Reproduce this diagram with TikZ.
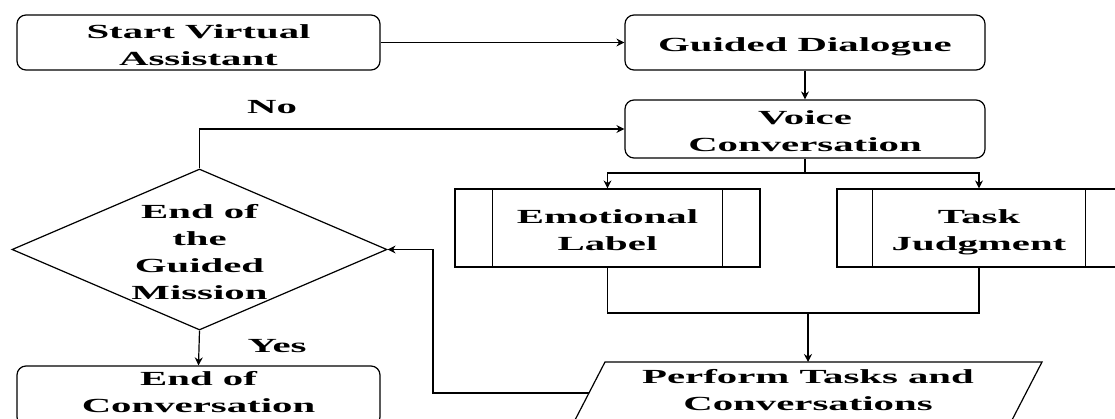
\documentclass[tikz,border=0pt]{standalone}
\usepackage{fontspec}
\setmainfont{Liberation Serif}
\usetikzlibrary{arrows.meta,shapes.geometric}
\newcommand\sx[1]{\scalebox{2.04}[1]{\begin{tabular}{@{}c@{}}#1\end{tabular}}}
\newcommand\bx[1]{\raisebox{-4pt}[\height][\depth]{\sx{#1}}}
\begin{document}
\begin{tikzpicture}[x=1pt,y=1pt,
  every node/.style={font=\fontsize{20}{27}\selectfont\bfseries, inner sep=0pt},
  rbox/.style={draw, rounded corners=9pt, line width=1.2pt},
  pbox/.style={draw, line width=1.2pt},
  conn/.style={line width=1.2pt},
  arr/.style={conn, -{Stealth[length=8pt,width=8pt]}}]
\useasboundingbox (0,0) rectangle (1115,-419);

% process boxes
\node[rbox, minimum width=363pt, minimum height=55pt] (start) at (198.5,-42.5) {\bx{Start Virtual\\Assistant}};
\node[rbox, minimum width=360pt, minimum height=55pt] (guided) at (805,-42.5) {\bx{Guided Dialogue}};
\node[rbox, minimum width=360pt, minimum height=58pt] (voice) at (805,-129) {\bx{Voice\\Conversation}};
\node[pbox, minimum width=305pt, minimum height=78pt] (emo) at (607.5,-228) {\bx{Emotional\\Label}};
\node[pbox, minimum width=284pt, minimum height=78pt] (task) at (979,-228) {\bx{Task\\Judgment}};
\draw[conn] ([xshift=38pt]emo.north west) -- ([xshift=38pt]emo.south west);
\draw[conn] ([xshift=-38pt]emo.north east) -- ([xshift=-38pt]emo.south east);
\draw[conn] ([xshift=36pt]task.north west) -- ([xshift=36pt]task.south west);
\draw[conn] ([xshift=-36pt]task.north east) -- ([xshift=-36pt]task.south east);

% decision
\node[diamond, draw, line width=1.2pt, minimum width=375pt, minimum height=161pt] (dec) at (199.5,-249.5) {};
\node (dect) at (199.5,-250) {\bx{End of\\the\\Guided\\Mission}};

% end
\node[rbox, minimum width=363pt, minimum height=60pt] (endc) at (198.5,-396) {};
\node (endt) at (198.5,-394) {\sx{End of\\Conversation}};

% input/output parallelogram
\coordinate (p1) at (605,-362);
\coordinate (p2) at (1042,-362);
\coordinate (p3) at (1012,-420);
\coordinate (p4) at (575,-420);
\draw[pbox] (p1) -- (p2) -- (p3) -- (p4) -- cycle;
\node (perf) at (808,-392) {\sx{Perform Tasks and\\Conversations}};
\coordinate (pT) at (808,-362);
\coordinate (pL) at (589,-393);

% helper points
\coordinate (br) at (805,-173);
\coordinate (jn) at (808,-313);
\coordinate (c1) at (433,-249.5);

% connectors
\draw[arr] (start) -- (guided);
\draw[arr] (guided) -- (voice);
\draw[conn] (voice.south) -- (br);
\draw[arr] (br) -| (emo.north);
\draw[arr] (br) -| (task.north);
\draw[conn] (emo.south) |- (jn);
\draw[conn] (task.south) |- (jn);
\draw[arr] (jn) -- (pT);
\draw[arr] (pL) -| (c1) -- (dec.east);
\draw[arr] (dec.north) |- (voice.west);
\draw[arr] (dec.south) -- (endc.north);

% labels
\node (no) at (272,-108) {\sx{No}};
\node (yes) at (277,-347) {\sx{Yes}};
\end{tikzpicture}
\end{document}
